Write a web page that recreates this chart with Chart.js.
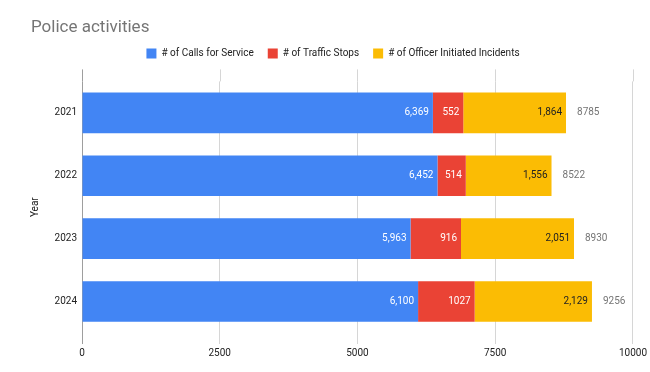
<!DOCTYPE html>
<html lang="en">
<head>
    <meta charset="UTF-8">
    <meta content="width=device-width, initial-scale=1.0" name="viewport">
    <title>Police activities</title>
    <script src="https://cdn.jsdelivr.net/npm/chart.js"></script>
    <style>
        body { margin: 0; background: #fff; }
        #chartContainer { width: 650px; height: 372px; }
    </style>
</head>
<body>

<div id="chartContainer">
    <canvas id="policeChart"></canvas>
</div>

<script type="text/javascript">
    // Chart data
    const years = ['2021', '2022', '2023', '2024'];
    const callsForService = [6369, 6452, 5963, 6100];
    const trafficStops = [552, 514, 916, 1027];
    const officerIncidents = [1864, 1556, 2051, 2129];
    const xTicks = [0, 2500, 5000, 7500, 10000];

    const totals = years.map((y, i) => callsForService[i] + trafficStops[i] + officerIncidents[i]);

    const fontFamily = 'Roboto, "Liberation Sans", Arial, sans-serif';
    const gridColor = '#d6d6d6';
    const baselineColor = '#9e9e9e';

    const withComma = v => v.toLocaleString('en-US');
    const plain = v => String(v);
    const labelFormats = [withComma, plain, withComma];   // one per dataset
    const labelColors = ['#ffffff', '#ffffff', '#222222'];

    // push the plot area a little further below the legend
    const legendGap = {
        id: 'legendGap',
        beforeInit(chart) {
            const fit = chart.legend.fit;
            chart.legend.fit = function () {
                fit.bind(chart.legend)();
                this.height += 13;
            };
        }
    };

    // vertical grid lines poke out a bit above the plot area
    const gridTop = {
        id: 'gridTop',
        beforeDatasetsDraw(chart) {
            const ctx = chart.ctx;
            const xScale = chart.scales.x;
            const top = chart.chartArea.top;
            ctx.save();
            ctx.lineWidth = 1;
            xScale.ticks.forEach(t => {
                const px = Math.round(xScale.getPixelForValue(t.value)) + 0.5;
                ctx.strokeStyle = t.value === 0 ? baselineColor : gridColor;
                ctx.beginPath();
                ctx.moveTo(px, top - 12);
                ctx.lineTo(px, top);
                ctx.stroke();
            });
            ctx.restore();
        }
    };

    // value labels inside the segments and totals after each bar
    const barLabels = {
        id: 'barLabels',
        afterDatasetsDraw(chart) {
            const ctx = chart.ctx;
            ctx.save();
            ctx.font = '10px ' + fontFamily;
            ctx.textBaseline = 'middle';
            chart.data.datasets.forEach((ds, di) => {
                const meta = chart.getDatasetMeta(di);
                ctx.fillStyle = labelColors[di];
                ctx.textAlign = 'right';
                meta.data.forEach((bar, i) => {
                    ctx.fillText(labelFormats[di](ds.data[i]), bar.x - 4, bar.y);
                });
            });
            const last = chart.getDatasetMeta(chart.data.datasets.length - 1);
            ctx.fillStyle = '#757575';
            ctx.textAlign = 'left';
            last.data.forEach((bar, i) => {
                ctx.fillText(String(totals[i]), bar.x + 11, bar.y);
            });
            ctx.restore();
        }
    };

    const ctx = document.getElementById('policeChart').getContext('2d');

    new Chart(ctx, {
        type: 'bar',
        data: {
            labels: years,
            datasets: [
                { label: '# of Calls for Service', data: callsForService, backgroundColor: '#4285f4' },
                { label: '# of Traffic Stops', data: trafficStops, backgroundColor: '#ea4335' },
                { label: '# of Officer Initiated Incidents', data: officerIncidents, backgroundColor: '#fbbc04' }
            ]
        },
        options: {
            indexAxis: 'y',
            responsive: true,
            maintainAspectRatio: false,
            devicePixelRatio: 1,
            animation: false,
            datasets: {
                bar: { categoryPercentage: 1, barPercentage: 0.645, borderWidth: 0 }
            },
            layout: {
                padding: { left: 31, right: 15, top: 0, bottom: 10 }
            },
            scales: {
                x: {
                    stacked: true,
                    min: 0,
                    max: 10000,
                    afterBuildTicks: s => { s.ticks = xTicks.map(v => ({ value: v })); },
                    border: { display: false },
                    grid: {
                        color: c => (c.tick && c.tick.value === 0 ? baselineColor : gridColor),
                        tickLength: 11
                    },
                    ticks: {
                        padding: 3,
                        color: '#222',
                        font: { family: fontFamily, size: 10 },
                        callback: v => String(v)
                    }
                },
                y: {
                    stacked: true,
                    afterFit: s => { s.width = 51; },
                    border: { display: false },
                    grid: { display: false, drawTicks: false },
                    ticks: {
                        padding: 5,
                        color: '#222',
                        font: { family: fontFamily, size: 10 }
                    },
                    title: {
                        display: true,
                        text: 'Year',
                        color: '#222',
                        font: { family: fontFamily, size: 10 },
                        padding: { top: -2, bottom: 0 }
                    }
                }
            },
            plugins: {
                title: {
                    display: true,
                    text: 'Police activities',
                    align: 'start',
                    color: '#757575',
                    font: { family: fontFamily, size: 17, weight: 'normal' },
                    padding: { top: 18, bottom: -4 }
                },
                legend: {
                    position: 'top',
                    labels: {
                        boxWidth: 10,
                        boxHeight: 10,
                        padding: 14,
                        color: '#222',
                        font: { family: fontFamily, size: 10 }
                    }
                },
                tooltip: { enabled: false }
            }
        },
        plugins: [legendGap, gridTop, barLabels]
    });
</script>

</body>
</html>
